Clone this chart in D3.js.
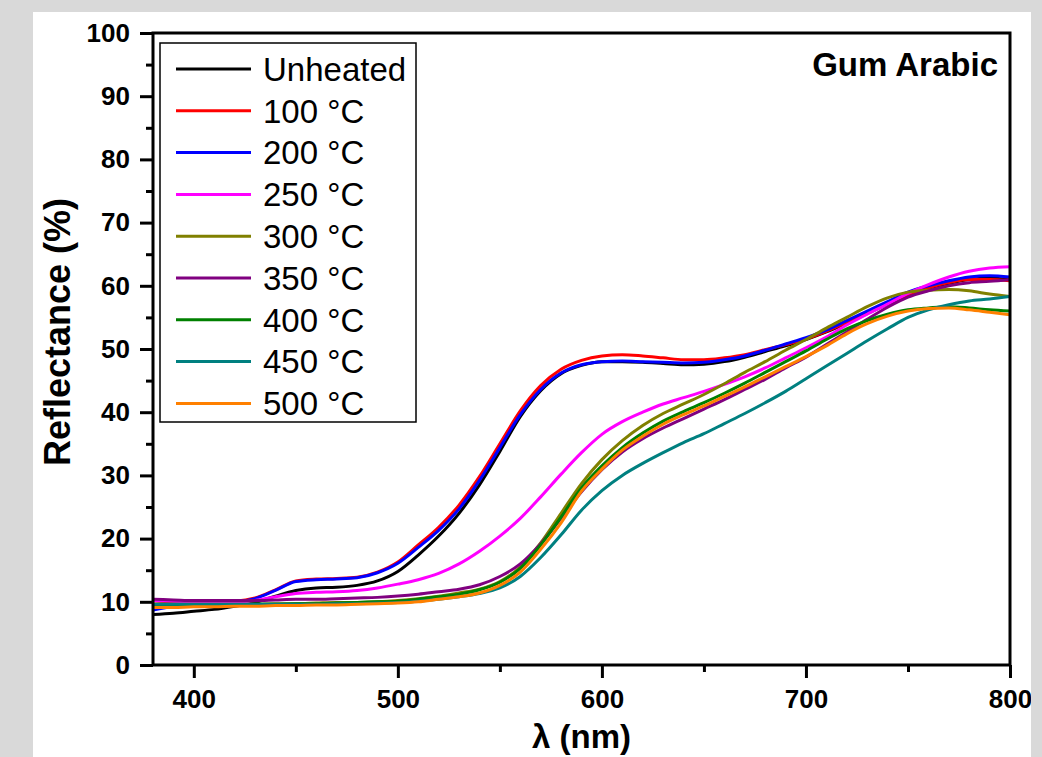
<!DOCTYPE html>
<html>
<head>
<meta charset="utf-8">
<script src="https://cdn.jsdelivr.net/npm/d3@7"></script>
<style>
  body { margin: 0; background: #d9d9d9; }
  svg { display: block; }
</style>
</head>
<body>
<svg id="refl" width="1042" height="757"></svg>
<script>
// wavelength grid (nm)
var wavelengths = [380, 390, 400, 410, 420, 430, 440, 450, 460, 470, 480, 490, 500, 510, 520, 530, 540, 550, 560, 570, 580,
    590, 600, 610, 620, 630, 640, 650, 660, 670, 680, 690, 700, 710, 720, 730, 740, 750, 760, 770, 780, 790, 800];

// reflectance (%)
var unheated = [8.0, 8.2, 8.5, 8.8, 9.3, 9.9, 10.9, 11.8, 12.2, 12.3, 12.6, 13.3, 14.8, 17.4, 20.4, 24.0, 28.5, 33.8, 39.3, 43.4, 46.1,
    47.4, 48.0, 48.0, 47.9, 47.7, 47.5, 47.6, 48.0, 48.7, 49.6, 50.5, 51.5, 52.7, 54.1, 55.6, 57.1, 58.5, 59.6, 60.4, 61.0, 61.2, 61.0];
var t100 = [9.6, 9.8, 9.9, 10.0, 10.1, 10.6, 11.9, 13.3, 13.6, 13.7, 13.9, 14.7, 16.3, 19.0, 21.8, 25.3, 29.8, 35.0, 40.2, 44.2, 46.8,
    48.2, 48.9, 49.1, 48.9, 48.6, 48.3, 48.3, 48.6, 49.1, 49.9, 50.7, 51.6, 52.8, 54.2, 55.7, 57.2, 58.6, 59.7, 60.5, 61.0, 61.0, 60.8];
var t200 = [8.7, 9.3, 9.7, 9.9, 10.0, 10.5, 11.8, 13.2, 13.5, 13.6, 13.8, 14.6, 16.1, 18.6, 21.3, 24.7, 29.2, 34.4, 39.6, 43.6, 46.2,
    47.5, 48.0, 48.1, 48.0, 47.9, 47.8, 47.9, 48.3, 48.9, 49.8, 50.8, 51.8, 53.0, 54.5, 56.0, 57.5, 59.0, 60.0, 60.8, 61.4, 61.6, 61.4];
var t250 = [10.2, 10.1, 10.0, 10.0, 10.0, 10.2, 10.8, 11.3, 11.5, 11.6, 11.8, 12.2, 12.8, 13.5, 14.5, 16.0, 18.0, 20.4, 23.2, 26.6, 30.2,
    33.6, 36.5, 38.5, 40.0, 41.3, 42.3, 43.3, 44.4, 45.6, 47.0, 48.6, 50.2, 51.9, 53.8, 55.5, 57.1, 58.8, 60.2, 61.4, 62.3, 62.8, 63.0];
var t300 = [9.6, 9.6, 9.6, 9.6, 9.6, 9.6, 9.7, 9.7, 9.8, 9.9, 9.9, 10.0, 10.2, 10.5, 10.9, 11.4, 12.0, 13.2, 15.5, 19.3, 24.0,
    28.7, 32.5, 35.5, 37.9, 39.8, 41.3, 42.8, 44.5, 46.3, 48.0, 49.8, 51.5, 53.3, 55.0, 56.7, 58.1, 59.0, 59.3, 59.4, 59.2, 58.7, 58.3];
var t350 = [10.4, 10.3, 10.2, 10.2, 10.2, 10.2, 10.3, 10.4, 10.4, 10.5, 10.6, 10.7, 10.9, 11.2, 11.6, 12.0, 12.7, 14.0, 16.0, 19.2, 23.2,
    27.4, 30.9, 33.7, 35.8, 37.5, 39.0, 40.5, 42.0, 43.6, 45.2, 47.0, 48.7, 50.7, 52.7, 54.7, 56.6, 58.2, 59.2, 60.0, 60.5, 60.7, 61.0];
var t400 = [9.5, 9.5, 9.5, 9.5, 9.5, 9.6, 9.6, 9.7, 9.7, 9.8, 9.9, 10.0, 10.1, 10.4, 10.8, 11.2, 11.9, 13.1, 15.3, 19.0, 23.4,
    28.0, 31.5, 34.4, 36.7, 38.6, 40.1, 41.5, 43.0, 44.6, 46.3, 48.0, 49.7, 51.5, 53.2, 54.5, 55.5, 56.2, 56.5, 56.7, 56.5, 56.2, 56.0];
var t450 = [9.6, 9.6, 9.6, 9.6, 9.6, 9.6, 9.6, 9.6, 9.6, 9.7, 9.7, 9.8, 9.9, 10.1, 10.4, 10.8, 11.3, 12.2, 14.0, 17.0, 20.6,
    24.5, 27.6, 30.0, 31.9, 33.6, 35.2, 36.6, 38.2, 39.8, 41.5, 43.3, 45.3, 47.3, 49.3, 51.3, 53.2, 55.0, 56.2, 57.0, 57.6, 57.9, 58.3];
var t500 = [9.1, 9.1, 9.2, 9.2, 9.3, 9.3, 9.4, 9.4, 9.5, 9.5, 9.6, 9.7, 9.8, 10.0, 10.4, 10.8, 11.4, 12.6, 14.7, 18.3, 22.5,
    27.5, 31.0, 34.0, 36.2, 38.1, 39.6, 41.0, 42.5, 44.0, 45.6, 47.2, 48.8, 50.5, 52.4, 54.0, 55.2, 56.0, 56.4, 56.5, 56.2, 55.8, 55.4];

var seriesNames = ["Unheated", "100 °C", "200 °C", "250 °C", "300 °C", "350 °C", "400 °C", "450 °C", "500 °C"];
var seriesValues = [unheated, t100, t200, t250, t300, t350, t400, t450, t500];
var seriesColors = ["#000000", "#ff0000", "#0000ff", "#ff00ff", "#808000", "#800080", "#008000", "#008080", "#ff8000"];

var xMajor = [400, 500, 600, 700, 800];
var xMinor = [450, 550, 650, 750];
var yMajor = [0, 10, 20, 30, 40, 50, 60, 70, 80, 90, 100];
var yMinor = [5, 15, 25, 35, 45, 55, 65, 75, 85, 95];

var FONT = "'Liberation Sans', Arial, sans-serif";

var svg = d3.select("svg#refl"),
    margin = { top: 33, right: 32, bottom: 92, left: 153 },
    width = 1042 - margin.left - margin.right,
    height = 757 - margin.top - margin.bottom;

// white panel
svg.append("rect")
    .attr("x", 33).attr("y", 12)
    .attr("width", 998).attr("height", 745)
    .attr("fill", "#fff");

var g = svg.append("g").attr("transform", "translate(" + margin.left + "," + margin.top + ")");

var x = d3.scaleLinear().domain([380, 800]).range([0, width]);
var y = d3.scaleLinear().domain([0, 100]).range([height, 0]);

g.append("clipPath").attr("id", "plotclip")
    .append("rect").attr("x", 0).attr("y", 0).attr("width", width).attr("height", height);

var line = d3.line()
    .x(function (d, i) { return x(wavelengths[i]); })
    .y(function (d) { return y(d); })
    .curve(d3.curveMonotoneX);

g.append("g")
    .attr("clip-path", "url(#plotclip)")
    .selectAll("path")
    .data(seriesValues)
    .enter().append("path")
    .attr("d", line)
    .attr("fill", "none")
    .attr("stroke", function (d, i) { return seriesColors[i]; })
    .attr("stroke-width", 3)
    .attr("stroke-linejoin", "round");

// axes
function styleAxis(sel) {
    sel.select(".domain").remove();
    sel.selectAll("line").attr("stroke", "#000").attr("stroke-width", 3);
    sel.selectAll("text").style("font", "bold 26px " + FONT).attr("fill", "#000");
}

g.append("g")
    .attr("transform", "translate(0," + height + ")")
    .call(d3.axisBottom(x).tickValues(xMajor).tickSize(13).tickPadding(12).tickFormat(d3.format("d")))
    .call(styleAxis);

g.append("g")
    .attr("transform", "translate(0," + height + ")")
    .call(d3.axisBottom(x).tickValues(xMinor).tickSize(7).tickFormat(""))
    .call(styleAxis);

g.append("g")
    .call(d3.axisLeft(y).tickValues(yMajor).tickSize(13).tickPadding(10).tickFormat(d3.format("d")))
    .call(styleAxis);

g.append("g")
    .call(d3.axisLeft(y).tickValues(yMinor).tickSize(7).tickFormat(""))
    .call(styleAxis);

// frame
g.append("rect")
    .attr("width", width).attr("height", height)
    .attr("fill", "none").attr("stroke", "#000").attr("stroke-width", 3);

// axis titles
svg.append("text")
    .attr("transform", "translate(70," + 332 + ") rotate(-90)")
    .attr("text-anchor", "middle")
    .style("font", "bold 36px " + FONT)
    .text("Reflectance (%)");

svg.append("text")
    .attr("x", margin.left + x(590))
    .attr("y", 748)
    .attr("text-anchor", "middle")
    .style("font", "bold 33px " + FONT)
    .text("λ (nm)");

// sample label
g.append("text")
    .attr("x", width - 12)
    .attr("y", 43)
    .attr("text-anchor", "end")
    .style("font", "bold 33px " + FONT)
    .text("Gum Arabic");

// legend
var legend = g.append("g").attr("transform", "translate(7,10)");

legend.append("rect")
    .attr("width", 256).attr("height", 379)
    .attr("fill", "#fff").attr("stroke", "#000").attr("stroke-width", 1.5);

var item = legend.selectAll(".item")
    .data(seriesNames)
    .enter().append("g")
    .attr("class", "item")
    .attr("transform", function (d, i) { return "translate(0," + (26 + i * 41.8) + ")"; });

item.append("line")
    .attr("x1", 16).attr("x2", 91)
    .attr("stroke", function (d, i) { return seriesColors[i]; })
    .attr("stroke-width", 3);

item.append("text")
    .attr("x", 103)
    .attr("dy", "0.36em")
    .style("font", "33px " + FONT)
    .text(function (d) { return d; });

// grey margin on the right clips the last tick label
svg.append("rect")
    .attr("x", 1031).attr("y", 0)
    .attr("width", 11).attr("height", 757)
    .attr("fill", "#d9d9d9");
</script>
</body>
</html>
